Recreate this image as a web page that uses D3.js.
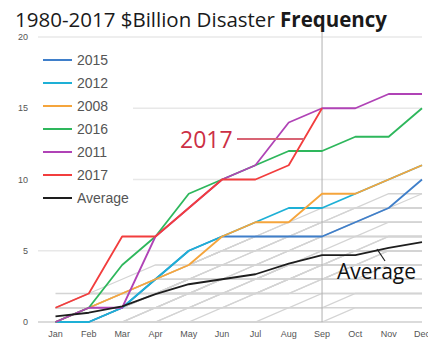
<!DOCTYPE html>
<html>
<head>
<meta charset="utf-8">
<script src="https://cdn.jsdelivr.net/npm/d3@7/dist/d3.min.js"></script>
<style>
  html, body { margin: 0; padding: 0; background: #fff; }
  svg { display: block; }
</style>
</head>
<body>
<svg id="chart" width="433" height="343"></svg>
<script>
// Cumulative count of billion-dollar disasters by month
const months = ["Jan","Feb","Mar","Apr","May","Jun","Jul","Aug","Sep","Oct","Nov","Dec"];
const yTicks = [0, 5, 10, 15, 20];

const y2015 = [0, 0, 1, 3, 5, 6, 6, 6, 6, 7, 8, 10];
const y2012 = [0, 0, 1, 3, 5, 6, 7, 8, 8, 9, 10, 11];
const y2008 = [0, 1, 2, 3, 4, 6, 7, 7, 9, 9, 10, 11];
const y2016 = [0, 1, 4, 6, 9, 10, 11, 12, 12, 13, 13, 15];
const y2011 = [0, 1, 1, 6, 8, 10, 11, 14, 15, 15, 16, 16];
const y2017 = [1, 2, 6, 6, 8, 10, 10, 11, 15];
const yAverage = [0.4, 0.65, 1.1, 1.95, 2.65, 3.0, 3.35, 4.1, 4.7, 4.7, 5.2, 5.6];

// Other years 1980-2014, shown in the background
const otherYears = [
  [0, 0, 0, 1, 1, 2, 2, 3, 3, 3, 3, 3],
  [0, 0, 1, 1, 1, 1, 2, 2, 2, 2, 2, 2],
  [1, 1, 1, 2, 2, 2, 2, 2, 3, 3, 3, 3],
  [0, 1, 1, 1, 2, 2, 3, 3, 4, 4, 4, 4],
  [0, 0, 0, 0, 1, 1, 1, 1, 2, 2, 2, 2],
  [0, 0, 1, 2, 2, 3, 3, 4, 5, 5, 6, 6],
  [0, 0, 0, 0, 0, 1, 1, 1, 1, 2, 2, 2],
  [0, 0, 0, 0, 0, 0, 0, 0, 0, 1, 1, 1],
  [0, 0, 0, 0, 0, 0, 0, 1, 1, 1, 1, 1],
  [0, 0, 1, 1, 2, 2, 2, 3, 4, 4, 5, 5],
  [0, 1, 2, 2, 2, 3, 3, 3, 3, 4, 4, 4],
  [0, 0, 0, 1, 1, 2, 2, 3, 3, 4, 4, 4],
  [0, 0, 1, 2, 3, 3, 3, 4, 5, 5, 6, 6],
  [1, 2, 2, 3, 3, 3, 4, 4, 4, 4, 5, 5],
  [2, 2, 2, 2, 3, 3, 3, 3, 3, 4, 4, 4],
  [0, 1, 1, 2, 2, 3, 3, 4, 4, 5, 5, 5],
  [0, 1, 1, 1, 2, 2, 3, 3, 4, 4, 4, 4],
  [1, 1, 2, 3, 3, 4, 4, 4, 4, 4, 4, 4],
  [0, 1, 2, 3, 4, 5, 6, 6, 7, 7, 8, 8],
  [1, 2, 2, 3, 4, 4, 4, 5, 5, 6, 6, 6],
  [0, 0, 0, 1, 1, 1, 2, 3, 3, 3, 4, 4],
  [0, 0, 0, 0, 1, 2, 2, 2, 3, 3, 3, 3],
  [0, 0, 1, 2, 2, 3, 3, 3, 4, 5, 5, 5],
  [0, 1, 2, 3, 4, 4, 5, 5, 6, 6, 7, 7],
  [1, 1, 2, 2, 3, 3, 4, 5, 6, 6, 6, 6],
  [0, 1, 1, 2, 3, 4, 4, 5, 6, 6, 6, 6],
  [1, 1, 2, 3, 4, 5, 5, 6, 6, 7, 7, 7],
  [0, 0, 1, 1, 2, 2, 3, 4, 4, 5, 5, 5],
  [0, 1, 2, 3, 4, 5, 5, 6, 6, 7, 7, 7],
  [0, 0, 1, 2, 3, 3, 3, 4, 4, 4, 4, 4],
  [0, 1, 2, 3, 4, 5, 6, 7, 8, 8, 9, 9],
  [0, 1, 2, 3, 4, 5, 6, 6, 7, 8, 8, 8],
  [0, 0, 1, 2, 3, 4, 5, 6, 7, 7, 8, 9],
  [1, 2, 3, 4, 4, 5, 6, 7, 7, 8, 8, 8]
];

const highlighted = [
  { name: "2015", values: y2015, color: "#3f7fca" },
  { name: "2012", values: y2012, color: "#1eb0d6" },
  { name: "2008", values: y2008, color: "#f5a53c" },
  { name: "2016", values: y2016, color: "#2eb75c" },
  { name: "2011", values: y2011, color: "#b043b6" },
  { name: "2017", values: y2017, color: "#f23d3d" },
  { name: "Average", values: yAverage, color: "#1e1e1e" }
];

const svg = d3.select("#chart");

// Drawing area ends just past December
svg.append("defs").append("clipPath").attr("id", "frame")
  .append("rect").attr("x", 0).attr("y", 0).attr("width", 428).attr("height", 343);

const x = d3.scalePoint().domain(months).range([55.5, 422]);
const y = d3.scaleLinear().domain([0, 20]).range([322, 37]);

const line = d3.line()
  .x((d, i) => x(months[i]))
  .y(d => y(d));

// Title
const title = svg.append("text")
  .attr("x", 15).attr("y", 27)
  .attr("font-family", "Open Sans, sans-serif")
  .attr("font-size", 20.5)
  .attr("fill", "#1a1a1a");
title.append("tspan").text("1980-2017 $Billion Disaster ");
title.append("tspan").attr("font-weight", "bold").text("Frequency");

// Horizontal grid
svg.append("g").selectAll("line").data(yTicks).join("line")
  .attr("x1", 38).attr("x2", 422)
  .attr("y1", d => y(d)).attr("y2", d => y(d))
  .attr("stroke", d => d === 0 ? "#cfcfcf" : "#e8e8e8")
  .attr("stroke-width", 1.5);

// Y tick labels
svg.append("g").selectAll("text").data(yTicks).join("text")
  .attr("x", 28).attr("y", d => y(d) + 3)
  .attr("text-anchor", "end")
  .attr("font-family", "Liberation Sans, Arial, sans-serif")
  .attr("font-size", 9)
  .attr("fill", "#555")
  .text(d => d);

// X tick labels
svg.append("g").attr("clip-path", "url(#frame)")
  .selectAll("text").data(months).join("text")
  .attr("x", d => x(d)).attr("y", 337)
  .attr("text-anchor", "middle")
  .attr("font-family", "Liberation Sans, Arial, sans-serif")
  .attr("font-size", 9)
  .attr("fill", "#555")
  .text(d => d);

// Background years
svg.append("g").selectAll("path").data(otherYears).join("path")
  .attr("d", d => line(d))
  .attr("fill", "none")
  .attr("stroke", "#d4d4d4")
  .attr("stroke-width", 1.3);

// Current month marker
svg.append("line")
  .attr("x1", x("Sep")).attr("x2", x("Sep"))
  .attr("y1", 32).attr("y2", y(0))
  .attr("stroke", "#b0b0b0").attr("stroke-width", 1);

// Highlighted years
svg.append("g").selectAll("path").data(highlighted).join("path")
  .attr("d", d => line(d.values))
  .attr("fill", "none")
  .attr("stroke", d => d.color)
  .attr("stroke-width", 1.8)
  .attr("stroke-linejoin", "round");

// Legend
svg.append("rect")
  .attr("x", 38).attr("y", 42).attr("width", 95).attr("height", 168)
  .attr("fill", "#fff");
const legend = svg.append("g").selectAll("g").data(highlighted).join("g")
  .attr("transform", (d, i) => `translate(0, ${65 + i * 23})`);
legend.append("line")
  .attr("x1", 43).attr("x2", 72).attr("y1", -5).attr("y2", -5)
  .attr("stroke", d => d.color).attr("stroke-width", 2);
legend.append("text")
  .attr("x", 77).attr("y", 0)
  .attr("font-family", "Liberation Sans, Arial, sans-serif")
  .attr("font-size", 14)
  .attr("fill", "#555")
  .text(d => d.name);

// Annotations
svg.append("text")
  .attr("x", 180).attr("y", 148)
  .attr("font-family", "Open Sans, sans-serif")
  .attr("font-size", 23)
  .attr("fill", "#cc2f45")
  .text("2017");
svg.append("line")
  .attr("x1", 237).attr("x2", 304).attr("y1", 139).attr("y2", 139)
  .attr("stroke", "#d86474").attr("stroke-width", 2);

svg.append("text")
  .attr("x", 337).attr("y", 279)
  .attr("font-family", "Open Sans, sans-serif")
  .attr("font-size", 21)
  .attr("fill", "#111")
  .text("Average");
svg.append("line")
  .attr("x1", 377).attr("x2", 385).attr("y1", 249).attr("y2", 261)
  .attr("stroke", "#222").attr("stroke-width", 1.2);
</script>
</body>
</html>
